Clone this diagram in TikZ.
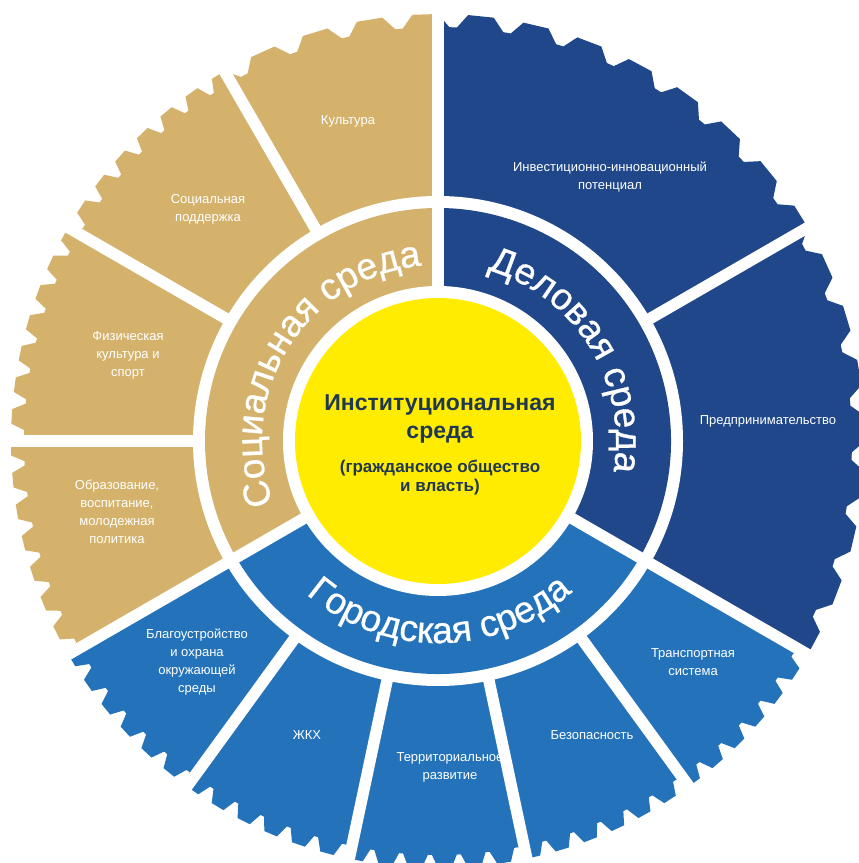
\documentclass[tikz,border=0pt]{standalone}
\usepackage{fontspec}
\setmainfont{Liberation Sans}
\newfontfamily\ringfam[FakeBold=0.8]{Liberation Sans}
\usetikzlibrary{decorations.text}
\definecolor{beige}{RGB}{213,178,108}
\definecolor{dblue}{RGB}{31,71,138}
\definecolor{lblue}{RGB}{36,115,186}
\definecolor{yel}{RGB}{255,236,0}
\definecolor{ctext}{RGB}{32,56,80}
\newcommand\ringfont{\ringfam\fontsize{37}{37}\selectfont}
% gear-edged pie segment: colour, start angle, number of teeth, tooth period (deg)
\newcommand\gearseg[4]{%
  \fill[#1] (0,0) -- (#2:427) \foreach \k in {1,...,#3} {
     -- ({#2+#4*(\k-1)+0.46*#4}:427) -- ({#2+#4*(\k-1)+0.65*#4}:414)
     -- ({#2+#4*(\k-1)+0.79*#4}:414) -- ({#2+#4*\k}:427) } -- cycle;}
\begin{document}
\begin{tikzpicture}[x=1pt,y=1pt,
  lab/.style={text=white, font=\fontsize{13}{18}\selectfont, align=center, inner sep=0pt},
  divider/.style={white, line width=11.5pt},
  ringtext/.style={decorate, decoration={text along path, text align=center, text color=white, text={|\ringfont|#1}}}
 ]
\useasboundingbox (0,0) rectangle (859,863);
\fill[white] (0,0) rectangle (859,863);
\begin{scope}[shift={(438,422)}]
 % outer gear ring segments
 \gearseg{dblue}{-30}{8}{7.5}
 \gearseg{dblue}{30}{8}{7.5}
 \gearseg{beige}{90}{4}{7.5}
 \gearseg{beige}{120}{7}{4.2857}
 \gearseg{beige}{150}{7}{4.2857}
 \gearseg{beige}{180}{7}{4.2857}
 \gearseg{lblue}{210}{6}{4}
 \gearseg{lblue}{234}{6}{4}
 \gearseg{lblue}{258}{6}{4}
 \gearseg{lblue}{282}{6}{4}
 \gearseg{lblue}{306}{6}{4}
 % gap between rings
 \fill[white] (0,0) circle[radius=245pt];
 % middle ring
 \fill[beige] (0,0) -- (90:233) arc[start angle=90, end angle=210, radius=233pt] -- cycle;
 \fill[dblue] (0,0) -- (-30:233) arc[start angle=-30, end angle=90, radius=233pt] -- cycle;
 \fill[lblue] (0,0) -- (210:233) arc[start angle=210, end angle=330, radius=233pt] -- cycle;
 \fill[white] (0,0) circle[radius=155pt];
 \fill[yel] (0,0) circle[radius=143pt];
 % dividers
 \foreach \a in {90,210,330} { \draw[divider] (\a:147) -- (\a:460); }
 \foreach \a in {120,150,180,30,234,258,282,306} { \draw[divider] (\a:238) -- (\a:460); }
 % ring titles
 \path[ringtext={Социальная среда}] (218:176) arc[start angle=218, end angle=78, radius=176pt];
 \path[ringtext={Деловая среда}] (102:178) arc[start angle=102, end angle=-38, radius=178pt];
 \path[ringtext={Городская среда}] (200:202) arc[start angle=200, end angle=341, radius=202pt];
\end{scope}
% center text
\node[text=ctext, font=\bfseries\fontsize{23}{28}\selectfont, align=center] (inst) at (440,444) {Институциональная\\среда};
\node[text=ctext, font=\bfseries\fontsize{17}{19}\selectfont, align=center] (grazh) at (440,385.5) {(гражданское общество\\и власть)};
% outer labels
\node[lab] (kult) at (348,742) {Культура};
\node[lab] (socp) at (208,654) {Социальная\\поддержка};
\node[lab] (fiz) at (128,508) {Физическая\\культура и\\спорт};
\node[lab] (obr) at (117,351.5) {Образование,\\воспитание,\\молодежная\\политика};
\node[lab] (blag) at (197,201) {Благоустройство\\и охрана\\окружающей\\среды};
\node[lab] (zhkh) at (307,128) {ЖКХ};
\node[lab] (terr) at (450,96) {Территориальное\\развитие};
\node[lab] (bez) at (592,128) {Безопасность};
\node[lab] (trans) at (693,201) {Транспортная\\система};
\node[lab] (pred) at (768,442) {Предпринимательство};
\node[lab] (inv) at (610,686) {Инвестиционно-инновационный\\потенциал};
\end{tikzpicture}
\end{document}
